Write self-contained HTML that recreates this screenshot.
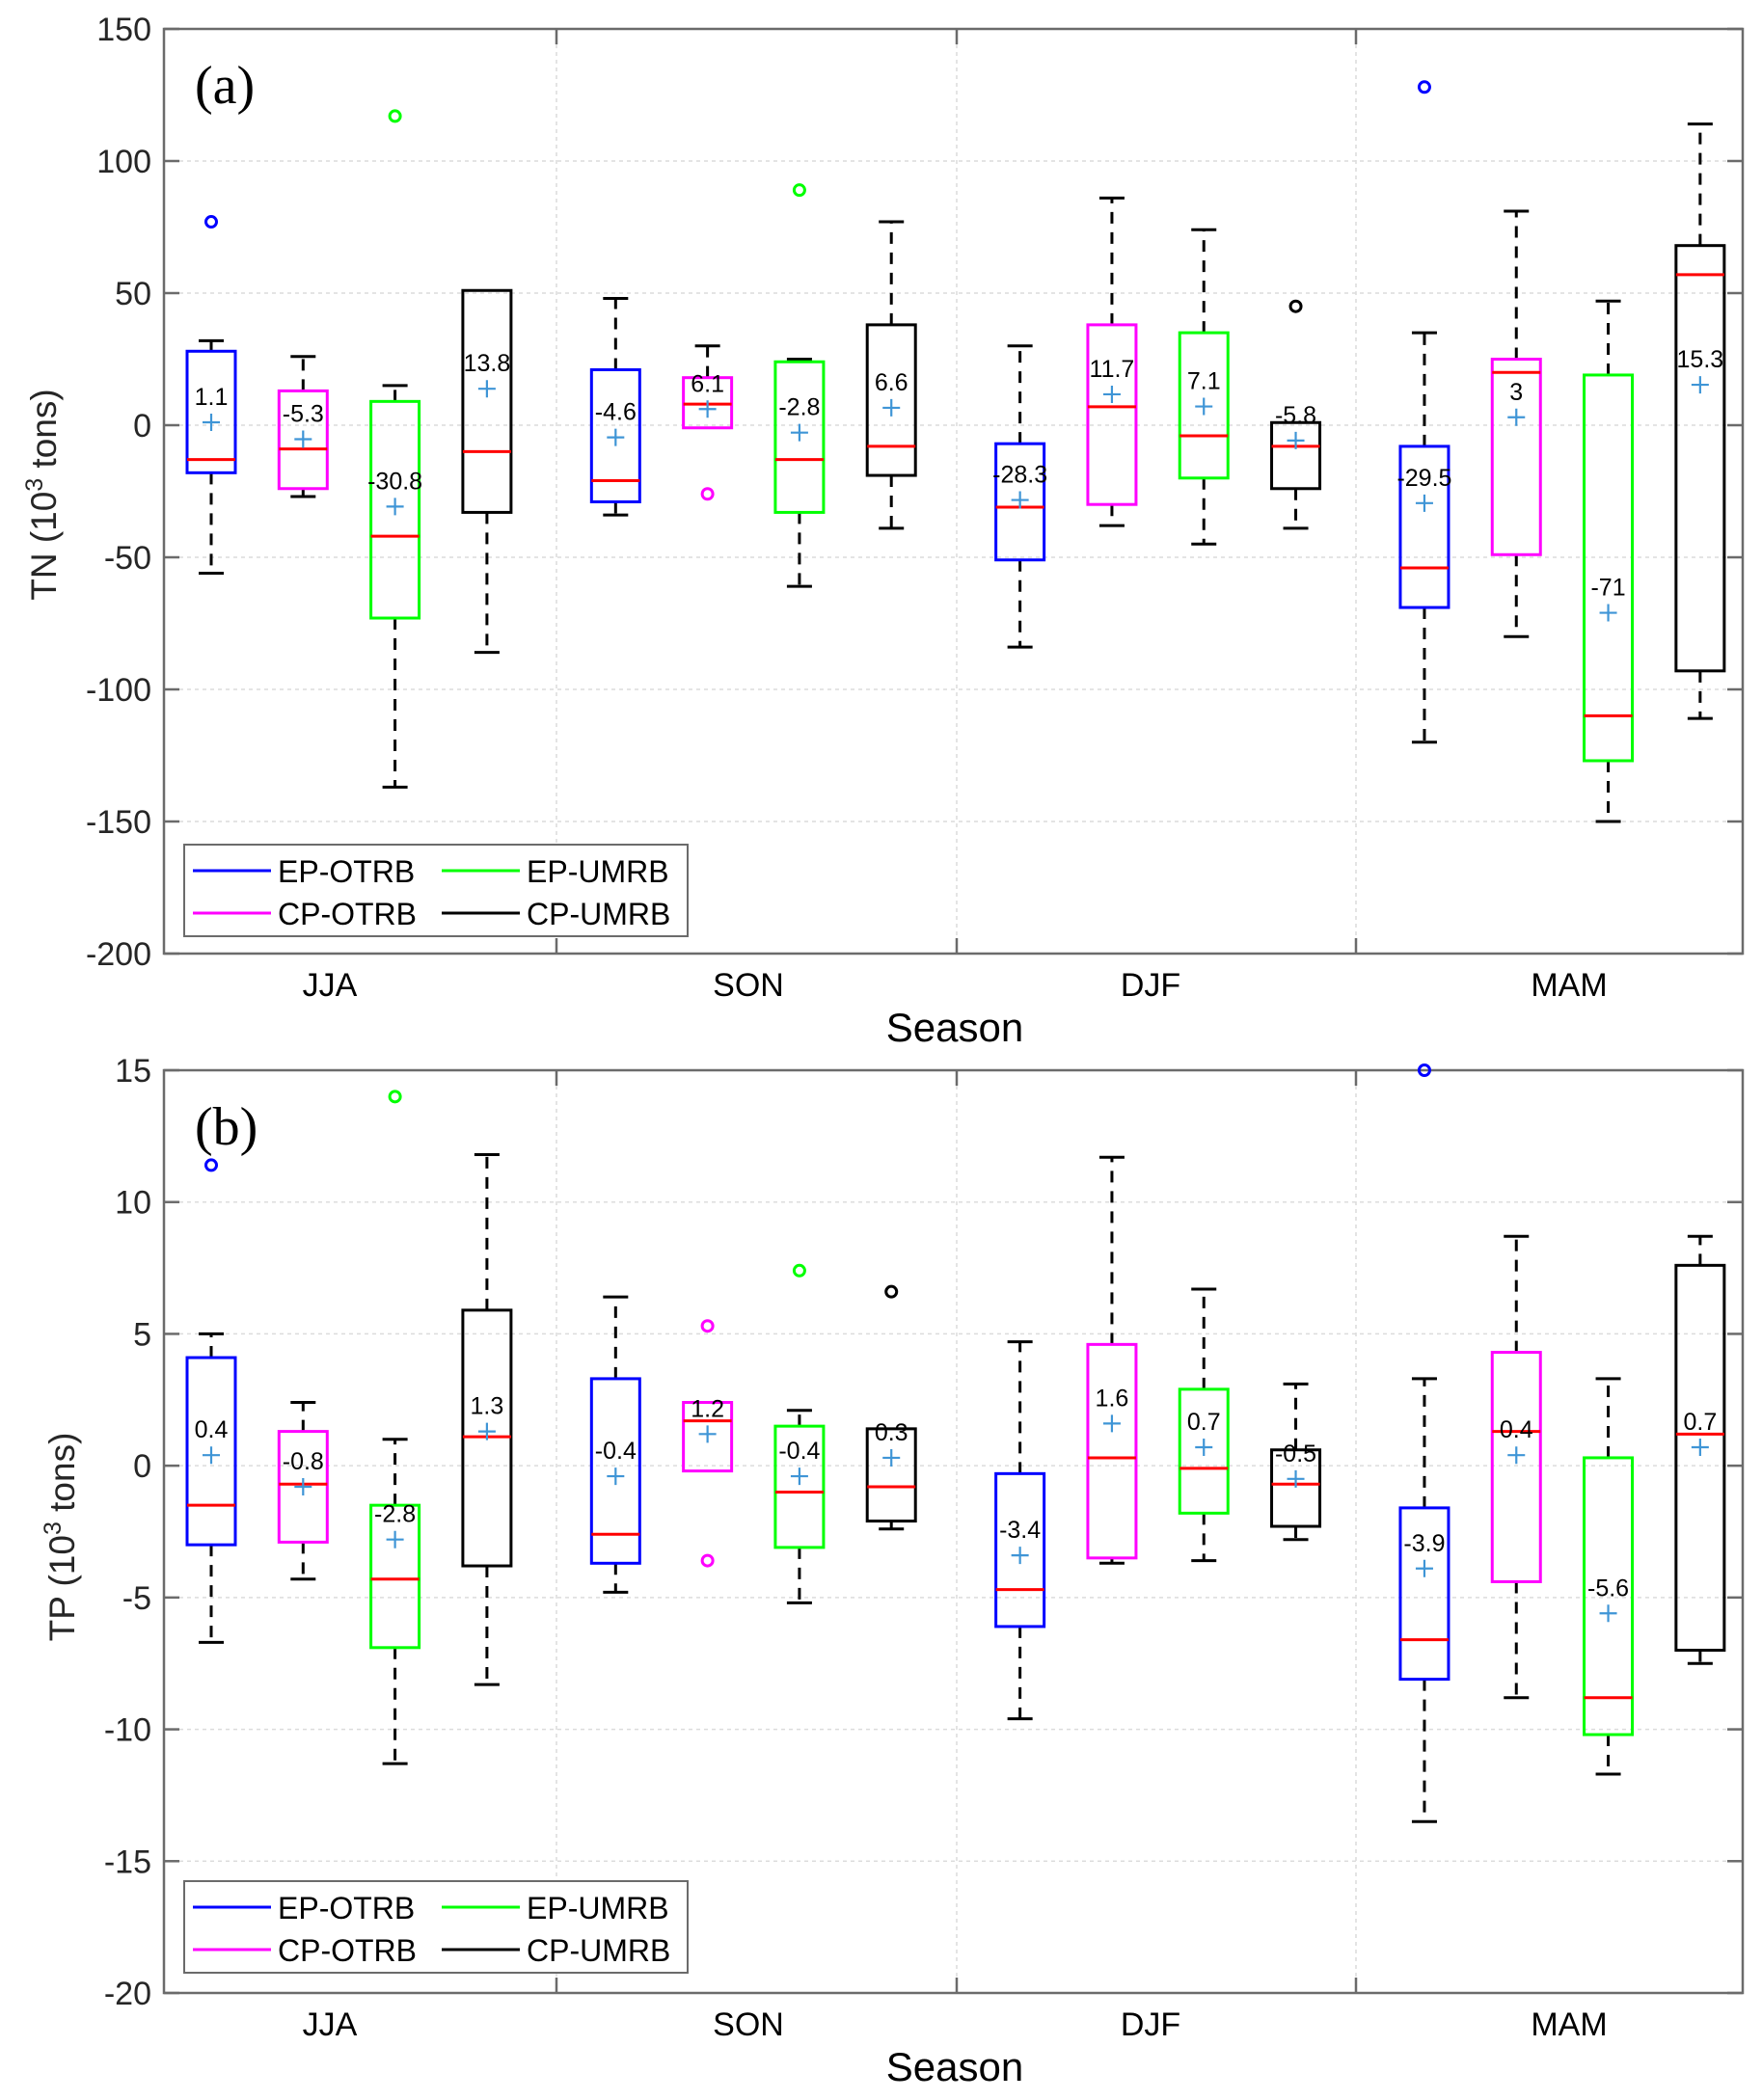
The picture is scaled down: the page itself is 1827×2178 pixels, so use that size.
<!DOCTYPE html>
<html><head><meta charset="utf-8"><style>
html,body{margin:0;padding:0;background:#fff}
svg{display:block}
text{font-family:"Liberation Sans",sans-serif}
text.serif{font-family:"Liberation Serif",serif}
</style></head><body>
<svg id="fig" width="1827" height="2178" viewBox="0 0 1827 2178" xmlns="http://www.w3.org/2000/svg"></svg>
<script>
const seasons = ["JJA","SON","DJF","MAM"];
const seriesNames = ["EP-OTRB","CP-OTRB","EP-UMRB","CP-UMRB"];
const seriesColors = ["#0000ff","#ff00ff","#00ff00","#000000"];
// Panel a (TN) per box, ordered season-major
const tnUpper = [32,26,15,51, 48,30,25,77, 30,86,74,1, 35,81,47,114];
const tnQ3 = [28,13,9,51, 21,18,24,38, -7,38,35,1, -8,25,19,68];
const tnMedian = [-13,-9,-42,-10, -21,8,-13,-8, -31,7,-4,-8, -54,20,-110,57];
const tnQ1 = [-18,-24,-73,-33, -29,-1,-33,-19, -51,-30,-20,-24, -69,-49,-127,-93];
const tnLower = [-56,-27,-137,-86, -34,-1,-61,-39, -84,-38,-45,-39, -120,-80,-150,-111];
const tnMean = [1.1,-5.3,-30.8,13.8, -4.6,6.1,-2.8,6.6, -28.3,11.7,7.1,-5.8, -29.5,3,-71,15.3];
const tnOutliers = [[77],[],[117],[], [],[-26],[89],[], [],[],[],[45], [128],[],[],[]];
const tnTicks = [150,100,50,0,-50,-100,-150,-200];
// Panel b (TP)
const tpUpper = [5,2.4,1.0,11.8, 6.4,2.4,2.1,1.4, 4.7,11.7,6.7,3.1, 3.3,8.7,3.3,8.7];
const tpQ3 = [4.1,1.3,-1.5,5.9, 3.3,2.4,1.5,1.4, -0.3,4.6,2.9,0.6, -1.6,4.3,0.3,7.6];
const tpMedian = [-1.5,-0.7,-4.3,1.1, -2.6,1.7,-1.0,-0.8, -4.7,0.3,-0.1,-0.7, -6.6,1.3,-8.8,1.2];
const tpQ1 = [-3,-2.9,-6.9,-3.8, -3.7,-0.2,-3.1,-2.1, -6.1,-3.5,-1.8,-2.3, -8.1,-4.4,-10.2,-7.0];
const tpLower = [-6.7,-4.3,-11.3,-8.3, -4.8,-0.2,-5.2,-2.4, -9.6,-3.7,-3.6,-2.8, -13.5,-8.8,-11.7,-7.5];
const tpMean = [0.4,-0.8,-2.8,1.3, -0.4,1.2,-0.4,0.3, -3.4,1.6,0.7,-0.5, -3.9,0.4,-5.6,0.7];
const tpOutliers = [[11.4],[],[14],[], [],[5.3,-3.6],[7.4],[6.6], [],[],[],[], [15],[],[],[]];
const tpTicks = [15,10,5,0,-5,-10,-15,-20];

const NS="http://www.w3.org/2000/svg";
const svg=document.getElementById('fig');
function mk(tag,attrs,parent){const e=document.createElementNS(NS,tag);for(const k in attrs)e.setAttribute(k,attrs[k]);(parent||svg).appendChild(e);return e;}

const X0=170,X1=1807;
function xPos(i){const g=Math.floor(i/4),j=i%4;return 219+95.3*(j+4.4*g);}
const dividers=[577,992,1406];
const labelX=[342,776,1193,1627];

function panel(cfg){
  const {top,bottom,vmax,vmin,ticks,up,q3,med,q1,lo,mean,outl,tag,ylabel,ylabelY,legendTop,catY,seasonY,tagY,pname}=cfg;
  const y=v=>top+(vmax-v)/(vmax-vmin)*(bottom-top);
  const g=mk('g',{});
  
  
  ticks.forEach(t=>{
    const l=mk('line',{x1:X0,x2:X1,y1:y(t),y2:y(t),stroke:'#dcdcdc','stroke-width':1.5,'stroke-dasharray':'4 4'},g);
    
    
  });
  dividers.forEach(d=>{
    const l=mk('line',{x1:d,x2:d,y1:top,y2:bottom,stroke:'#dcdcdc','stroke-width':1.5,'stroke-dasharray':'4 4'},g);
    
    
    mk('line',{x1:d,x2:d,y1:top,y2:top+16,stroke:'#6b6b6b','stroke-width':2.5},g);
    mk('line',{x1:d,x2:d,y1:bottom,y2:bottom-16,stroke:'#6b6b6b','stroke-width':2.5},g);
  });
  const ax=mk('rect',{x:X0,y:top,width:X1-X0,height:bottom-top,fill:'none',stroke:'#6b6b6b','stroke-width':2.5},g);
  
  
  ticks.forEach(t=>{
    mk('line',{x1:X0,x2:X0+16,y1:y(t),y2:y(t),stroke:'#6b6b6b','stroke-width':2.5},g);
    mk('line',{x1:X1,x2:X1-16,y1:y(t),y2:y(t),stroke:'#6b6b6b','stroke-width':2.5},g);
    const tx=mk('text',{x:157,y:y(t)+12,'text-anchor':'end','font-size':34,fill:'#262626'},g);
    tx.textContent=t;
    
    
  });
  seasons.forEach((s,i)=>{
    const tx=mk('text',{x:labelX[i],y:catY,'text-anchor':'middle','font-size':34,fill:'#000'},g);
    tx.textContent=s;
    
    
  });
  const st=mk('text',{x:990,y:seasonY,'text-anchor':'middle','font-size':42,fill:'#000'},g);
  st.textContent='Season';
  
  
  const yt=mk('text',{x:0,y:0,'text-anchor':'middle','font-size':37,fill:'#262626',transform:`translate(${cfg.ylabelX},${ylabelY}) rotate(-90)`},g);
  yt.innerHTML=ylabel+' (10<tspan dy="-14" font-size="25">3</tspan><tspan dy="14"> tons)</tspan>';
  
  
  const tg=mk('text',{x:202,y:tagY,'font-size':56,fill:'#000','class':'serif'},g);
  tg.textContent=tag;
  
  
  for(let i=0;i<16;i++){
    const cx=xPos(i),col=seriesColors[i%4],hw=25,cw=13;
    const bg=mk('g',{},g);
    
    
    if(up[i]>q3[i]){
      mk('line',{x1:cx,x2:cx,y1:y(q3[i]),y2:y(up[i]),stroke:'#000','stroke-width':3,'stroke-dasharray':'12 9'},bg);
      mk('line',{x1:cx-cw,x2:cx+cw,y1:y(up[i]),y2:y(up[i]),stroke:'#000','stroke-width':3},bg);
    }
    if(lo[i]<q1[i]){
      mk('line',{x1:cx,x2:cx,y1:y(q1[i]),y2:y(lo[i]),stroke:'#000','stroke-width':3,'stroke-dasharray':'12 9'},bg);
      mk('line',{x1:cx-cw,x2:cx+cw,y1:y(lo[i]),y2:y(lo[i]),stroke:'#000','stroke-width':3},bg);
    }
    mk('rect',{x:cx-hw,y:y(q3[i]),width:2*hw,height:y(q1[i])-y(q3[i]),fill:'none',stroke:col,'stroke-width':3},bg);
    mk('line',{x1:cx-hw,x2:cx+hw,y1:y(med[i]),y2:y(med[i]),stroke:'#ff0000','stroke-width':3},bg);
    const my=y(mean[i]);
    mk('path',{d:`M${cx-9} ${my}H${cx+9}M${cx} ${my-9}V${my+9}`,stroke:'#3f95d6','stroke-width':2.2,fill:'none'},bg);
    const ml=mk('text',{x:cx,y:my-18,'text-anchor':'middle','font-size':25,fill:'#000'},bg);
    ml.textContent=mean[i];
    
    
    outl[i].forEach(o=>{
      const c=mk('circle',{cx:cx,cy:y(o),r:5.5,fill:'none',stroke:col,'stroke-width':3},bg);
      
      
    });
  }
  const lg=mk('g',{},g);
  
  
  mk('rect',{x:191,y:legendTop,width:522,height:95,fill:'#fff',stroke:'#6b6b6b','stroke-width':2},lg);
  const pos=[[0,0],[0,1],[1,0],[1,1]];
  seriesNames.forEach((n,k)=>{
    const [c,r]=pos[k];
    const lx=200+c*258, ly=legendTop+27+r*44;
    const e=mk('g',{},lg);
    
    
    mk('line',{x1:lx,x2:lx+81,y1:ly,y2:ly,stroke:seriesColors[k],'stroke-width':3},e);
    const t=mk('text',{x:lx+88,y:ly+12,'font-size':32,fill:'#000'},e);
    t.textContent=n;
  });
}

panel({pname:'panel-a-tn',top:30,bottom:989,vmax:150,vmin:-200,ticks:tnTicks,up:tnUpper,q3:tnQ3,med:tnMedian,q1:tnQ1,lo:tnLower,mean:tnMean,outl:tnOutliers,tag:'(a)',ylabel:'TN',ylabelX:58,ylabelY:513,legendTop:876,catY:1033,seasonY:1080,tagY:107});
panel({pname:'panel-b-tp',top:1110,bottom:2067,vmax:15,vmin:-20,ticks:tpTicks,up:tpUpper,q3:tpQ3,med:tpMedian,q1:tpQ1,lo:tpLower,mean:tpMean,outl:tpOutliers,tag:'(b)',ylabel:'TP',ylabelX:77,ylabelY:1594,legendTop:1951,catY:2111,seasonY:2158,tagY:1187});
</script>
</body></html>
